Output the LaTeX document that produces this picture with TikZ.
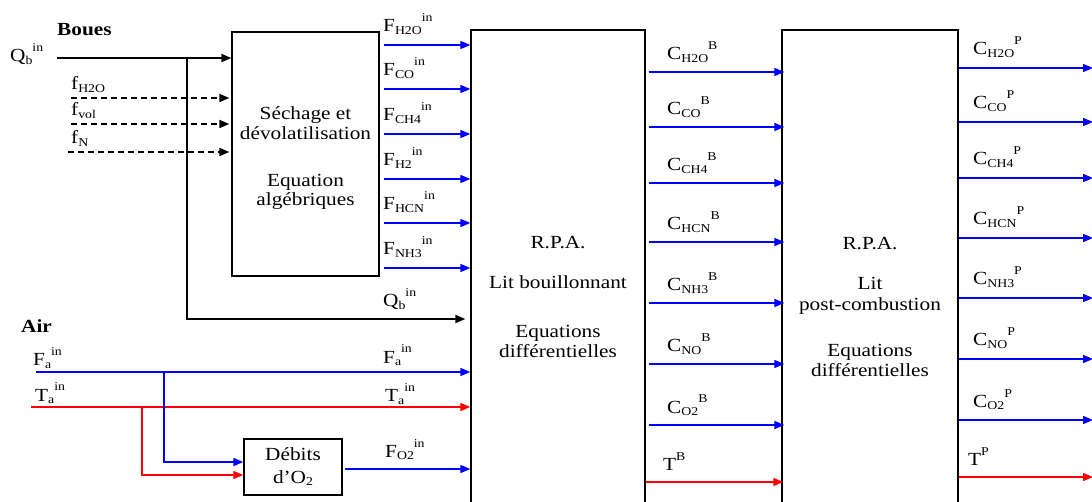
\documentclass[tikz,border=0pt]{standalone}
\usepackage{fontspec}
\setmainfont{Liberation Serif}[FakeStretch=1.15]
\usetikzlibrary{arrows.meta, positioning, calc}

\newcommand{\subt}[1]{\raisebox{-2.5pt}{\fontsize{12pt}{12pt}\selectfont #1}}
\newcommand{\supt}[1]{\raisebox{10pt}{\fontsize{12pt}{12pt}\selectfont #1}}

\tikzset{
  txt/.style={font=\fontsize{18.5pt}{19.5pt}\selectfont, inner sep=0pt},
  bold/.style={txt, font=\fontsize{18.5pt}{19.5pt}\selectfont\bfseries},
  blk/.style={draw, line width=1.3pt, inner sep=0pt},
  flow/.style={line width=1.7pt, -{Triangle[length=10pt,width=8pt]}},
  blueflow/.style={flow, blue, line width=1.4pt},
  redflow/.style={flow, red, line width=1.4pt},
  dashflow/.style={flow, dash pattern=on 6pt off 4pt, line width=1.7pt},
}

\begin{document}
\begin{tikzpicture}[x=1pt, y=-1pt, every node/.style={txt}]
  \useasboundingbox (0,0) rectangle (1092,502);
  \clip (0,0) rectangle (1092,502);

  % ------------------------------------------
  % Blocks
  % ------------------------------------------
  \node[blk, minimum width=147pt, minimum height=244pt] (sech) at (305.5,154) {};
  \node[blk, minimum width=174pt, minimum height=490pt] (rpab) at (558,275) {};
  \node[blk, minimum width=176pt, minimum height=490pt] (rpap) at (870,275) {};
  \node[blk, minimum width=98pt, minimum height=56pt, align=center] (debit) at (293,467) {Débits\\[3pt]d’O\subt{2}};

  \node[align=center] (sechtxt) at (305.5,158.5) {Séchage et\\dévolatilisation\\[27.5pt]Equation\\algébriques};
  \node[align=center] (rpabtxt) at (558,297) {R.P.A.\\[20.5pt]Lit bouillonnant\\[29.5pt]Equations\\différentielles};
  \node[align=center] (rpaptxt) at (870,306.7) {R.P.A.\\[20.5pt]Lit\\[1.5pt]post-combustion\\[27.2pt]Equations\\différentielles};

  % ------------------------------------------
  % Sludge inlet
  % ------------------------------------------
  \node[bold, anchor=base west] (boues) at (57,36) {Boues};
  \node[anchor=base west] (qbl) at (10,62) {Q\subt{b}\supt{in}};
  \coordinate (qbin) at (57,58);
  \coordinate (qsplit) at (187,58);
  \draw[flow] (qbin) -- (sech.west |- qbin);

  % Fractions (dashed)
  \foreach \y/\lab/\x [count=\i] in {98/H2O/71, 124/vol/71, 152/N/68} {
    \node[anchor=base west] (frac\i) at (71,{\y-8}) {f\subt{\lab}};
    \coordinate (fs\i) at (\x,\y);
    \draw[dashflow, shorten >=2pt] (fs\i) -- (sech.west |- fs\i);
  }

  % Bypass to the bed
  \draw[flow, shorten >=5pt] (qsplit) |- (rpab.west |- 0,319);
  \node[anchor=base west] (qbr) at (383,307) {Q\subt{b}\supt{in}};

  % Gas flows from drying block
  \foreach \y/\lab [count=\i] in {45/H2O, 89/CO, 134/CH4, 179/H2, 223/HCN, 268/NH3} {
    \node[anchor=base west] (fin\i) at (383,{\y-13}) {F\subt{\lab}\supt{in}};
    \draw[blueflow] ($(sech.east |- 0,\y)+(4,0)$) -- (rpab.west |- 0,\y);
  }

  % ------------------------------------------
  % Air inlet
  % ------------------------------------------
  \node[bold, anchor=base west] (air) at (21,333) {Air};
  \node[anchor=base west] (fal) at (33,366) {F\subt{a}\supt{in}};
  \node[anchor=base west] (tal) at (35,401) {T\subt{a}\supt{in}};
  \coordinate (fain) at (36,372);
  \coordinate (tain) at (31,407);
  \coordinate (fasplit) at (164,372);
  \coordinate (tasplit) at (142,407);
  \draw[blueflow] (fain) -- (rpab.west |- fain);
  \draw[redflow] (tain) -- (rpab.west |- tain);
  \draw[blueflow] (fasplit) |- (debit.west |- 0,462);
  \draw[redflow] (tasplit) |- (debit.west |- 0,475);
  \node[anchor=base west] (far) at (383,363) {F\subt{a}\supt{in}};
  \node[anchor=base west] (tar) at (385,402) {T\subt{a}\supt{in}};
  \node[anchor=base west] (fo2) at (385,457) {F\subt{O2}\supt{in}};
  \draw[blueflow] ($(debit.east |- 0,469)+(2,0)$) -- (rpab.west |- 0,469);

  % ------------------------------------------
  % Bubbling bed -> post-combustion
  % ------------------------------------------
  \foreach \y/\lab [count=\i] in {72/H2O, 127/CO, 183/CH4, 242/HCN, 303/NH3, 364/NO, 425/O2} {
    \node[anchor=base west] (cb\i) at (667,{\y-12}) {C\subt{\lab}\supt{B}};
    \draw[blueflow, shorten >=-3pt] ($(rpab.east |- 0,\y)+(3,0)$) -- (rpap.west |- 0,\y);
  }
  \node[anchor=base west] (tb) at (663,470) {T\supt{B}};
  \draw[redflow, shorten >=-2pt] (rpab.east |- 0,482) -- (rpap.west |- 0,482);

  % ------------------------------------------
  % Outputs
  % ------------------------------------------
  \foreach \y/\lab [count=\i] in {68/H2O, 122/CO, 178/CH4, 238/HCN, 298/NH3, 359/NO, 420/O2} {
    \node[anchor=base west] (cp\i) at (973,{\y-13}) {C\subt{\lab}\supt{P}};
    \coordinate (cpo\i) at (1093,\y);
    \draw[blueflow] (rpap.east |- cpo\i) -- (cpo\i);
  }
  \node[anchor=base west] (tp) at (968,465) {T\supt{P}};
  \coordinate (tpo) at (1093,477);
  \draw[redflow] (rpap.east |- tpo) -- (tpo);

\end{tikzpicture}
\end{document}
